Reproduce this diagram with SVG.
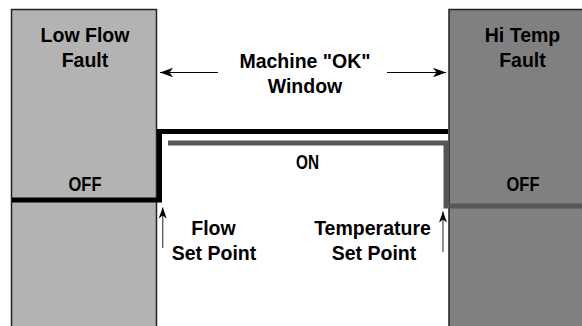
<svg xmlns="http://www.w3.org/2000/svg" width="582" height="326" viewBox="0 0 582 326">
  <style>
    .t { font-family: "Liberation Sans", Arial, sans-serif; font-weight: bold; fill: #000; text-anchor: middle; }
    .title { font-size: 19.5px; }
    .state { font-size: 19.5px; }
    .box { stroke: #222; stroke-width: 1.5; }
  </style>
  <defs>
    <marker id="ah" markerUnits="userSpaceOnUse" markerWidth="14" markerHeight="12" viewBox="-13 -6 14 12" refX="0" refY="0" orient="auto">
      <path d="M0,0 L-13,-4.8 L-9.5,0 L-13,4.8 Z" fill="#000"/>
    </marker>
    <marker id="ah2" markerUnits="userSpaceOnUse" markerWidth="12" markerHeight="10" viewBox="-11 -5 12 10" refX="0" refY="0" orient="auto">
      <path d="M0,0 L-11,-4 L-8,0 L-11,4 Z" fill="#000"/>
    </marker>
  </defs>
  <rect width="582" height="326" fill="#fff"/>

  <g id="low-flow-fault">
    <rect class="box" x="11.5" y="9.5" width="145" height="330" fill="#b3b3b3"/>
    <text class="t title" x="85" y="41.5">Low Flow</text>
    <text class="t title" x="85" y="67">Fault</text>
    <text class="t state" x="85" y="191" textLength="33" lengthAdjust="spacingAndGlyphs">OFF</text>
  </g>

  <g id="hi-temp-fault">
    <rect class="box" x="449" y="9.5" width="140" height="330" fill="#808080"/>
    <text class="t title" x="522.5" y="41.5">Hi Temp</text>
    <text class="t title" x="522.5" y="67">Fault</text>
    <text class="t state" x="523" y="191" textLength="33" lengthAdjust="spacingAndGlyphs">OFF</text>
  </g>

  <g id="window">
    <text class="t title" x="305" y="67.5">Machine "OK"</text>
    <text class="t title" x="305" y="93">Window</text>
    <text class="t state" x="307.5" y="168.5" textLength="23" lengthAdjust="spacingAndGlyphs">ON</text>
  </g>

  <g id="flow-set-point">
    <text class="t title" x="213.5" y="235">Flow</text>
    <text class="t title" x="214" y="260">Set Point</text>
  </g>

  <g id="temperature-set-point">
    <text class="t title" x="372.5" y="235">Temperature</text>
    <text class="t title" x="374" y="260">Set Point</text>
  </g>

  <g id="connectors" fill="none">
    <path d="M12,200 H159.5 V131.5 H448" stroke="#000" stroke-width="5"/>
    <path d="M168,143 H446 V206 H582" stroke="#555" stroke-width="5"/>
    <line x1="218" y1="72.5" x2="160" y2="72.5" stroke="#000" stroke-width="1.2" marker-end="url(#ah)"/>
    <line x1="387" y1="72.5" x2="446" y2="72.5" stroke="#000" stroke-width="1.2" marker-end="url(#ah)"/>
    <line x1="162.7" y1="248" x2="162.7" y2="207.5" stroke="#555" stroke-width="1.3" marker-end="url(#ah2)"/>
    <line x1="443" y1="252" x2="443" y2="211.5" stroke="#555" stroke-width="1.3" marker-end="url(#ah2)"/>
  </g>
</svg>
